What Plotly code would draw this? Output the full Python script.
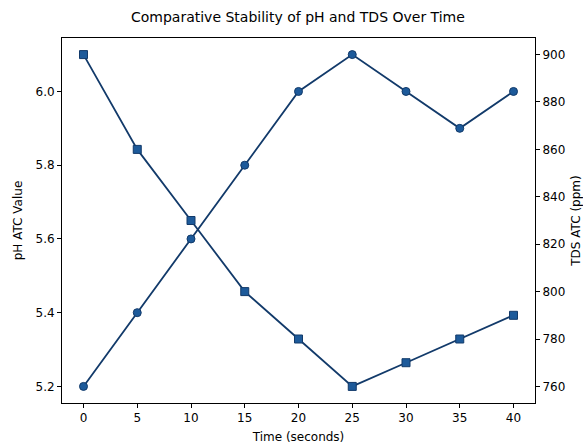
import plotly.graph_objects as go

time_s = [0, 5, 10, 15, 20, 25, 30, 35, 40]
ph_values = [5.2, 5.4, 5.6, 5.8, 6.0, 6.1, 6.0, 5.9, 6.0]
tds_values = [900, 860, 830, 800, 780, 760, 770, 780, 790]

line_col = "#123a6a"
fill_col = "#1d5a9a"
font = "DejaVu Sans"

fig = go.Figure()
fig.add_trace(go.Scatter(x=time_s, y=ph_values, mode="lines+markers", name="pH ATC",
                         line=dict(color=line_col, width=1.8),
                         marker=dict(symbol="circle", size=8, color=fill_col,
                                     line=dict(color=line_col, width=1))))
fig.add_trace(go.Scatter(x=time_s, y=tds_values, mode="lines+markers", name="TDS ATC",
                         yaxis="y2",
                         line=dict(color=line_col, width=1.8),
                         marker=dict(symbol="square", size=8, color=fill_col,
                                     line=dict(color=line_col, width=1))))

axis_common = dict(showgrid=False, zeroline=False, showline=True, linecolor="black",
                   linewidth=1, ticks="outside", ticklen=4, tickcolor="black",
                   automargin=False,
                   tickfont=dict(family=font, size=12, color="black"))

fig.update_layout(
    width=583, height=444,
    margin=dict(l=62, r=48, t=38, b=41),
    paper_bgcolor="white", plot_bgcolor="white",
    showlegend=False,
    title=dict(text="Comparative Stability of pH and TDS Over Time", x=0.511, xanchor="center",
               y=0.962, yanchor="middle", font=dict(family=font, size=14, color="black")),
    xaxis=dict(range=[-2, 42], tickvals=time_s, mirror=True,
               title=dict(text="Time (seconds)", standoff=14,
                          font=dict(family=font, size=12, color="black")),
               **axis_common),
    yaxis=dict(range=[5.155, 6.145], tickvals=[5.2, 5.4, 5.6, 5.8, 6.0],
               ticktext=["5.2", "5.4", "5.6", "5.8", "6.0"],
               title=dict(text="pH ATC Value", standoff=10,
                          font=dict(family=font, size=12, color="black")),
               **axis_common),
    yaxis2=dict(range=[753, 907], tickvals=[760, 780, 800, 820, 840, 860, 880, 900],
                overlaying="y", side="right",
                title=dict(text="TDS ATC (ppm)", standoff=20,
                           font=dict(family=font, size=12, color="black")),
                **axis_common),
)

fig.write_html("out.html")
